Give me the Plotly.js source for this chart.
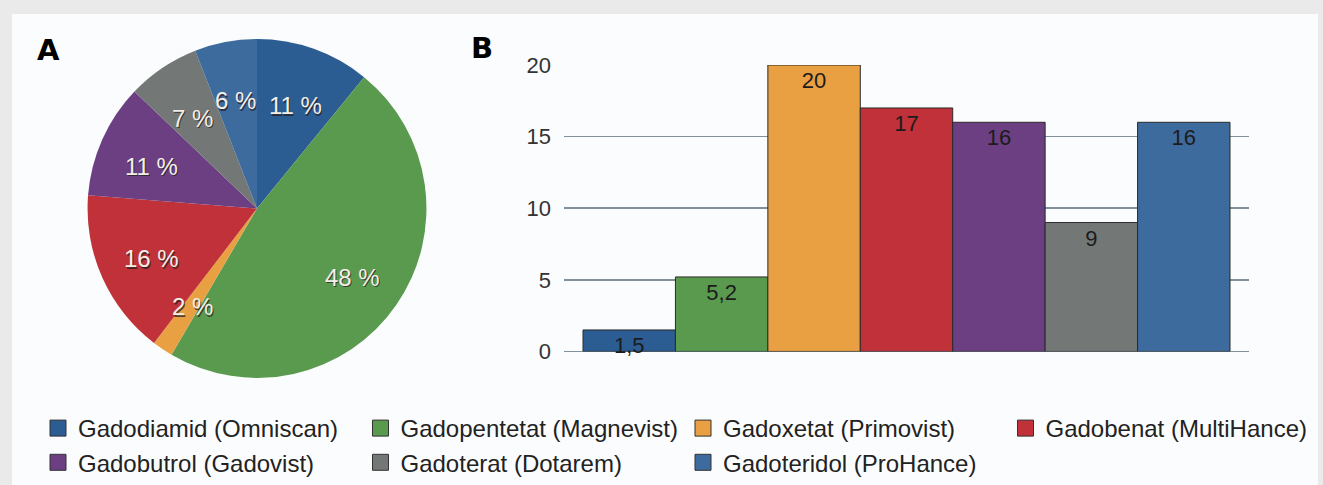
<!DOCTYPE html>
<html>
<head>
<meta charset="utf-8">
<script src="https://cdn.plot.ly/plotly-3.0.1.min.js"></script>
<style>
  html, body { margin: 0; padding: 0; background: #eaeaeb; width: 1323px; height: 485px; overflow: hidden; }
  #chart { position: absolute; left: 12px; top: 14px; width: 1306px; height: 471px; }
</style>
</head>
<body>
<div id="chart"></div>
<script>
// ---- data ----
const agents = [
  'Gadodiamid (Omniscan)',
  'Gadopentetat (Magnevist)',
  'Gadoxetat (Primovist)',
  'Gadobenat (MultiHance)',
  'Gadobutrol (Gadovist)',
  'Gadoterat (Dotarem)',
  'Gadoteridol (ProHance)'
];
const pieShares = [11, 48, 2, 16, 11, 7, 6];          // panel A, %
const barValues = [1.5, 5.2, 20, 17, 16, 9, 16];      // panel B
const yTicks = [0, 5, 10, 15, 20];
const colors = ['#2b5c92', '#5a9a4f', '#e8a043', '#c03139', '#6b3f81', '#737877', '#3e6b9e'];

// ---- layout geometry (div is 1306 x 471) ----
const W = 1306, H = 471;
const pieDomain = { x: [72 / W, 418 / W], y: [(H - 371) / H, (H - 25.5) / H] };
const FONT = 'Liberation Sans, Arial, Helvetica, sans-serif';

// slice label positions derived from the shares, placed on hidden axes spanning the pie
const total = pieShares.reduce((a, b) => a + b, 0);
let cum = 0;
const midAngle = pieShares.map(v => { const m = (cum + v / 2) / total * 2 * Math.PI; cum += v; return m; });
const LABEL_R = 0.67;

const pieAnnotations = [];
pieShares.forEach((v, i) => {
  const ax = LABEL_R * Math.sin(midAngle[i]);
  const ay = LABEL_R * Math.cos(midAngle[i]);
  // dark underlay (embossed look)
  pieAnnotations.push({ text: v + ' %', xref: 'x2', yref: 'y2', x: ax, y: ay, showarrow: false,
    xanchor: 'center', yanchor: 'middle', xshift: 1, yshift: -5.5,
    font: { family: FONT, size: 24, color: 'rgba(40,30,30,0.75)' } });
  pieAnnotations.push({ text: v + ' %', xref: 'x2', yref: 'y2', x: ax, y: ay, showarrow: false,
    xanchor: 'center', yanchor: 'middle', yshift: -4,
    font: { family: FONT, size: 24, color: '#f4eee8' } });
});

const pie = {
  type: 'pie',
  labels: agents,
  values: pieShares,
  sort: false,
  direction: 'clockwise',
  rotation: 0,
  marker: { colors: colors, line: { width: 0 } },
  textinfo: 'none',
  hoverinfo: 'label+value',
  domain: pieDomain,
  showlegend: false
};

const bars = {
  type: 'bar',
  x: agents,
  y: barValues,
  marker: { color: colors, line: { color: '#2a2a2a', width: 1 } },
  texttemplate: '%{y}',
  textposition: 'inside',
  insidetextanchor: 'end',
  constraintext: 'none',
  textfont: { family: FONT, size: 22, color: '#1c1c1c' },
  showlegend: false,
  xaxis: 'x',
  yaxis: 'y',
  cliponaxis: false
};

// legend entries (square swatches) for each agent, no visible data points
const legendTraces = agents.map((name, i) => ({
  type: 'scatter',
  mode: 'markers',
  name: name,
  x: [null],
  y: [null],
  xaxis: 'x2',
  yaxis: 'y2',
  marker: { symbol: 'square', size: 16, color: colors[i], line: { color: '#333', width: 1 } },
  showlegend: true,
  hoverinfo: 'skip'
}));

const layout = {
  width: W,
  height: H,
  margin: { l: 0, r: 0, t: 0, b: 0 },
  paper_bgcolor: '#fbfcfd',
  plot_bgcolor: 'rgba(0,0,0,0)',
  separators: ', ',
  bargap: 0,
  font: { family: FONT, color: '#222' },
  xaxis: {
    domain: [552 / W, 1237 / W],
    range: [-0.7056, 6.7056],
    showticklabels: false,
    showgrid: false,
    zeroline: false,
    showline: false,
    ticks: ''
  },
  yaxis: {
    domain: [(H - 344) / H, (H - 52) / H],
    range: [0, 20],
    tickvals: yTicks,
    ticktext: yTicks.map(String),
    showgrid: true,
    gridcolor: '#7f909b',
    gridwidth: 1.5,
    zeroline: true,
    zerolinecolor: '#7f909b',
    zerolinewidth: 1.5,
    showline: false,
    ticks: '',
    ticklabelstandoff: 12,
    tickfont: { family: FONT, size: 22, color: '#333' }
  },
  xaxis2: { domain: pieDomain.x, range: [-1, 1], visible: false, fixedrange: true },
  yaxis2: { domain: pieDomain.y, range: [-1, 1], visible: false, fixedrange: true, anchor: 'x2' },
  legend: {
    orientation: 'h',
    x: 26 / W,
    xanchor: 'left',
    y: (H - 400) / H,
    yanchor: 'top',
    bgcolor: 'rgba(0,0,0,0)',
    font: { family: FONT, size: 24, color: '#222' },
    traceorder: 'normal',
    itemsizing: 'trace'
  },
  annotations: [
    { text: '<b>A</b>', xref: 'paper', yref: 'paper', x: 36 / W, y: (H - 37) / H, showarrow: false,
      xanchor: 'center', yanchor: 'middle',
      font: { family: 'DejaVu Sans, sans-serif', size: 29, color: '#000' } },
    { text: '<b>B</b>', xref: 'paper', yref: 'paper', x: 470 / W, y: (H - 35) / H, showarrow: false,
      xanchor: 'center', yanchor: 'middle',
      font: { family: 'DejaVu Sans, sans-serif', size: 29, color: '#000' } }
  ].concat(pieAnnotations)
};

Plotly.newPlot('chart', [pie, bars].concat(legendTraces), layout, { displayModeBar: false, staticPlot: true });
</script>
</body>
</html>
